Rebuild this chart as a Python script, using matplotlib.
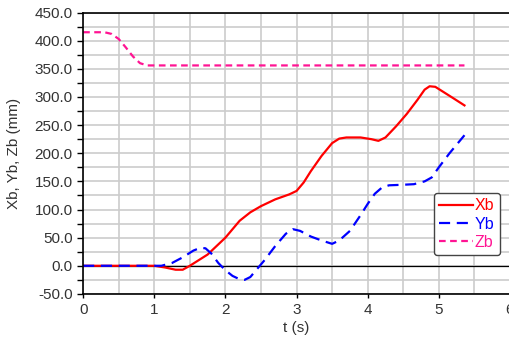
import matplotlib.pyplot as plt
from matplotlib.ticker import MultipleLocator, FormatStrFormatter

plt.rcParams['font.family'] = ['Liberation Sans', 'DejaVu Sans']

# position of the ball (mm) vs time (s)
t_x = [0, 1.0, 1.15, 1.3, 1.4, 1.5, 1.6, 1.75, 1.9, 2.0, 2.1, 2.2, 2.35, 2.5,
       2.7, 2.9, 3.0, 3.1, 3.2, 3.35, 3.5, 3.6, 3.7, 3.9, 4.05, 4.15, 4.25,
       4.4, 4.55, 4.7, 4.8, 4.87, 4.95, 5.05, 5.2, 5.36]
xb = [0, 0, -3, -7, -7, 0, 8, 20, 38, 50, 65, 80, 95, 106,
      118, 127, 133, 148, 168, 195, 218, 226, 228, 228, 225, 222, 228,
      248, 270, 295, 313, 319, 318, 310, 298, 285]

t_y = [0, 1.1, 1.25, 1.4, 1.55, 1.65, 1.72, 1.8, 1.9, 2.0, 2.1, 2.2, 2.27,
       2.35, 2.45, 2.55, 2.7, 2.85, 2.95, 3.05, 3.2, 3.35, 3.5, 3.6, 3.75,
       3.9, 4.0, 4.1, 4.2, 4.3, 4.5, 4.65, 4.8, 4.9, 5.0, 5.15, 5.36]
yb = [0, 0, 5, 15, 27, 32, 31, 22, 5, -8, -18, -24, -25,
      -20, -5, 10, 35, 57, 65, 62, 52, 45, 39, 45, 62,
      90, 110, 128, 139, 143, 144, 145, 150, 157, 175, 200, 232]

t_z = [0, 0.3, 0.4, 0.5, 0.6, 0.7, 0.8, 0.9, 5.36]
zb = [415, 415, 412, 403, 388, 372, 360, 356, 356]

fig = plt.figure(figsize=(5.10, 3.39), dpi=100)
ax = fig.add_axes([0.163, 0.133, 0.837, 0.830])

ax.plot(t_x, xb, color='#ff0000', lw=1.6, label='Xb')
ax.plot(t_y, yb, color='#0000ff', lw=1.6, ls=(0, (5, 3)), label='Yb')
ax.plot(t_z, zb, color='#ff1493', lw=1.6, ls=(0, (3, 2)), label='Zb')
ax.axhline(0, color='black', lw=0.9, zorder=1)

ax.set_xlim(0, 6)
ax.set_ylim(-50, 450)
ax.xaxis.set_major_locator(MultipleLocator(1))
ax.xaxis.set_minor_locator(MultipleLocator(0.5))
ax.yaxis.set_major_locator(MultipleLocator(50))
ax.yaxis.set_minor_locator(MultipleLocator(25))
ax.yaxis.set_major_formatter(FormatStrFormatter('%.1f'))
ax.grid(which='both', color='#cccccc', lw=1.2, zorder=0)
ax.set_axisbelow(True)

ax.tick_params(axis='y', which='both', direction='out', length=4, width=1,
               labelsize=11, labelcolor='#333333')
ax.tick_params(axis='x', which='major', direction='out', length=3, width=1,
               labelsize=11, labelcolor='#333333')
ax.tick_params(axis='x', which='minor', length=0)
for s in ['left', 'bottom', 'top']:
    ax.spines[s].set_color('black')
    ax.spines[s].set_linewidth(1.2)
ax.spines['right'].set_visible(False)

ax.set_xlabel('t (s)', fontsize=11, color='#333333', labelpad=3)
ax.set_ylabel('Xb, Yb, Zb (mm)', fontsize=11, color='#333333', labelpad=10)

leg = ax.legend(loc='upper left', bbox_to_anchor=(0.803, 0.388), fontsize=11.5,
                handlelength=2.1, handletextpad=0.1, borderpad=0.35,
                labelspacing=0.2, fancybox=True, framealpha=1)
leg.get_frame().set_edgecolor('#444444')
leg.get_frame().set_linewidth(1.0)
for txt, c in zip(leg.get_texts(), ['#ff0000', '#0000ff', '#ff1493']):
    txt.set_color(c)

fig.savefig('out.png', dpi=100)
